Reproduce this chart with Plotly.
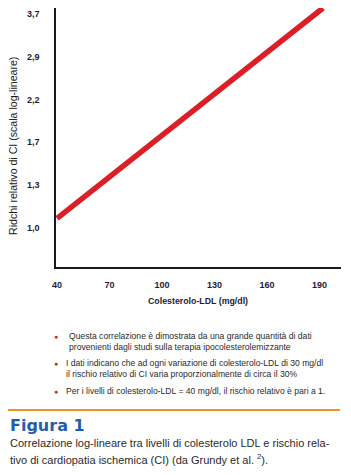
import plotly.graph_objects as go

# Data
ldl = [40, 192]
risk = [1.06, 3.85]
x_ticks = [40, 70, 100, 130, 160, 190]
y_tickvals = [1.0, 1.3, 1.69, 2.197, 2.856, 3.713]
y_ticktext = ["1,0", "1,3", "1,7", "2,2", "2,9", "3,7"]
bullets = [
    ["Questa correlazione è dimostrata da una grande quantità di dati",
     "provenienti dagli studi sulla terapia ipocolesterolemizzante"],
    ["I dati indicano che ad ogni variazione di colesterolo-LDL di 30 mg/dl",
     "il rischio relativo di CI varia proporzionalmente di circa il 30%"],
    ["Per i livelli di colesterolo-LDL = 40 mg/dl, il rischio relativo è pari a 1."],
]
caption = ["Correlazione log-lineare tra livelli di colesterolo LDL e rischio rela-",
           "tivo di cardiopatia ischemica (CI) (da Grundy et al. <sup>2</sup>)."]

W, H = 351, 475
L, R, T, B = 56, 341, 8, 267

def px(x):
    return (x - L) / (R - L)

def py(y):
    return (B - y) / (B - T)

FONT = "Liberation Sans, Arial, sans-serif"

fig = go.Figure()
fig.add_trace(go.Scatter(x=ldl, y=risk, mode="lines",
                         line=dict(color="#dc1f26", width=5.5),
                         hoverinfo="skip", showlegend=False))

fig.update_layout(
    width=W, height=H,
    margin=dict(l=L, r=W - R, t=T, b=H - B),
    paper_bgcolor="white", plot_bgcolor="white",
    xaxis=dict(range=[39.4, 202.3], tickvals=x_ticks,
               ticktext=[str(v) for v in x_ticks],
               showgrid=False, zeroline=False, showline=True,
               linecolor="#1a1a1a", linewidth=1.5, ticks="",
               ticklabelstandoff=8,
               tickfont=dict(family=FONT, size=9, color="#1c1c3a", weight="bold")),
    yaxis=dict(type="log", range=[-0.104, 0.5855], tickvals=y_tickvals,
               ticktext=y_ticktext, showgrid=False, zeroline=False,
               showline=True, linecolor="#1a1a1a", linewidth=1.5, ticks="",
               ticklabelstandoff=13,
               tickfont=dict(family=FONT, size=9, color="#1c1c3a", weight="bold")),
)

ann = []
# y-axis title
ann.append(dict(x=px(13), y=py(146), xref="paper", yref="paper",
                text="Ridchi relativo di CI (scala log-lineare)", textangle=-90,
                showarrow=False, xanchor="center", yanchor="middle",
                font=dict(family=FONT, size=10.6, color="#1a1a1a")))
# x-axis title
ann.append(dict(x=px(198), y=py(301), xref="paper", yref="paper",
                text="Colesterolo-LDL (mg/dl)", showarrow=False,
                xanchor="center", yanchor="middle",
                font=dict(family=FONT, size=8.8, color="#1c1c3a", weight="bold")))

# bullets
line_y = [[336, 347], [363, 374], [391]]
text_x = [67, 64, 64]
for blk, ys, tx in zip(bullets, line_y, text_x):
    ann.append(dict(x=px(56), y=py(ys[0]), xref="paper", yref="paper", text="●",
                    showarrow=False, xanchor="center", yanchor="middle",
                    font=dict(family=FONT, size=7, color="#dc1f26")))
    for t, yy in zip(blk, ys):
        ann.append(dict(x=px(tx), y=py(yy), xref="paper", yref="paper", text=t,
                        showarrow=False, xanchor="left", yanchor="middle",
                        font=dict(family=FONT, size=8.6, color="#2a2a2a")))

# Figura 1
ann.append(dict(x=px(8), y=py(426), xref="paper", yref="paper", text="<b>Figura 1</b>",
                showarrow=False, xanchor="left", yanchor="middle",
                font=dict(family="DejaVu Sans, sans-serif", size=16, color="#1f5ea8")))
for t, yy in zip(caption, [443, 459]):
    ann.append(dict(x=px(8), y=py(yy), xref="paper", yref="paper", text=t,
                    showarrow=False, xanchor="left", yanchor="middle",
                    font=dict(family=FONT, size=11, color="#2a2a2a")))
fig.update_layout(annotations=ann)

# orange rule
fig.add_shape(type="line", xref="paper", yref="paper",
              x0=px(8), x1=px(340), y0=py(410), y1=py(410),
              line=dict(color="#f0921e", width=2))

fig.write_html("out.html")
